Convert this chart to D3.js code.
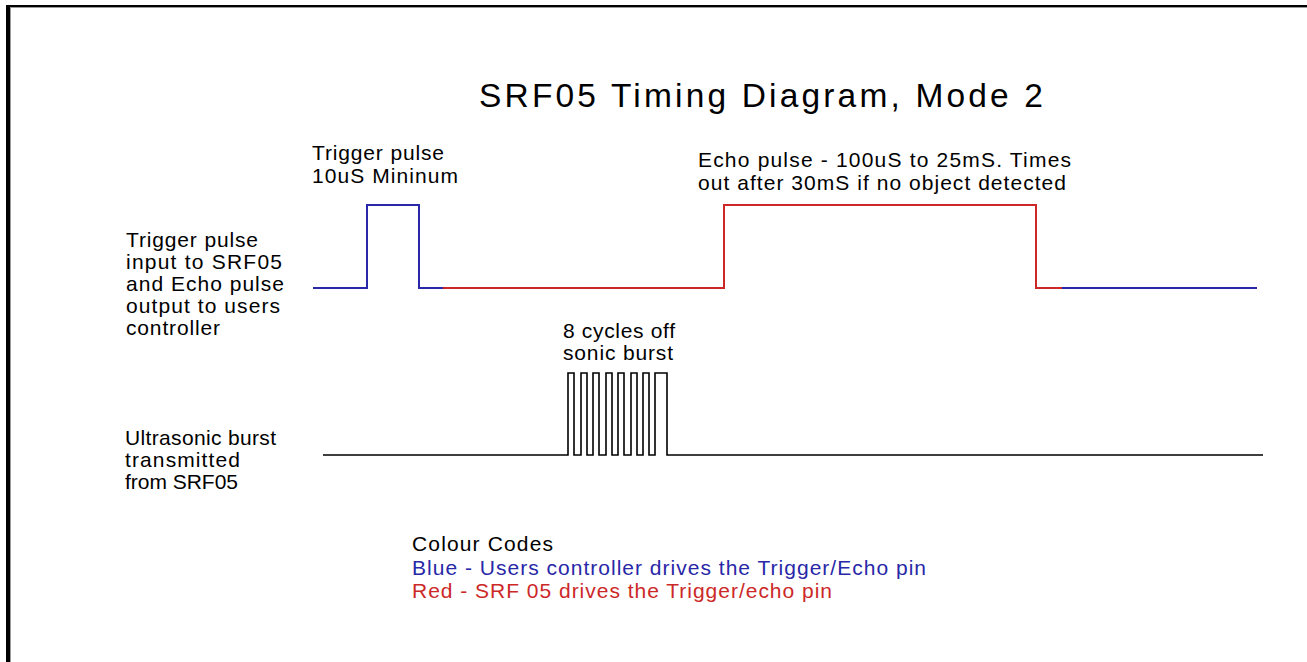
<!DOCTYPE html>
<html>
<head>
<meta charset="utf-8">
<script src="https://cdn.jsdelivr.net/npm/d3@7"></script>
<style>
  html, body { margin: 0; padding: 0; background: #fff; }
  svg { display: block; }
  text { font-family: "Liberation Sans", Arial, sans-serif; }
</style>
</head>
<body>
<svg id="chart" width="1307" height="662"></svg>
<script>
// ---- Data (time in arbitrary units, level 0 = low, 1 = high) ----
const titleText = "SRF05 Timing Diagram, Mode 2";

// Trigger/Echo line, split by who drives it
const triggerBlue1 = [[0,0],[54,0],[54,1],[106,1],[106,0],[130,0]];
const echoRed      = [[130,0],[411,0],[411,1],[723,1],[723,0],[749,0]];
const triggerBlue2 = [[749,0],[944,0]];

// Ultrasonic burst: rising and falling edges of the 8 cycles
const burstStart = 10;
const burstEnd = 950;
const burstRises = [255, 268, 280, 293, 305, 318, 330, 342];
const burstFalls = [261, 274, 286, 299, 311, 324, 336, 354];

const leftTopLabel = ["Trigger pulse", "input to SRF05", "and Echo pulse", "output to users", "controller"];
const leftBottomLabel = ["Ultrasonic burst", "transmitted", "from SRF05"];
const triggerNote = ["Trigger pulse", "10uS Mininum"];
const echoNote = ["Echo pulse - 100uS to 25mS. Times", "out after 30mS if no object detected"];
const burstNote = ["8 cycles off", "sonic burst"];
const legendTitle = "Colour Codes";
const legendBlue = "Blue - Users controller drives the Trigger/Echo pin";
const legendRed = "Red - SRF 05 drives the Trigger/echo pin";

// ---- Drawing ----
const BLUE = "#2828a8";
const RED = "#cc2828";
const svg = d3.select("#chart");

// frame (top and left edges)
svg.append("rect").attr("x", 6).attr("y", 5).attr("width", 1301).attr("height", 2).attr("fill", "#000");
svg.append("rect").attr("x", 6).attr("y", 7).attr("width", 1301).attr("height", 1).attr("fill", "#9a9a9a");
svg.append("rect").attr("x", 6).attr("y", 5).attr("width", 4).attr("height", 657).attr("fill", "#000");
svg.append("rect").attr("x", 10).attr("y", 7).attr("width", 1).attr("height", 655).attr("fill", "#9a9a9a");

const x = d3.scaleLinear().domain([0, 950]).range([313, 1263]);
const yTrig = d3.scaleLinear().domain([0, 1]).range([288, 205]);
const yBurst = d3.scaleLinear().domain([0, 1]).range([455, 373]);

const lineTrig = d3.line().x(d => x(d[0])).y(d => yTrig(d[1]));
const lineBurst = d3.line().x(d => x(d[0])).y(d => yBurst(d[1]));

[[triggerBlue1, BLUE], [echoRed, RED], [triggerBlue2, BLUE]].forEach(([pts, c]) => {
  svg.append("path").attr("d", lineTrig(pts)).attr("fill", "none")
    .attr("stroke", c).attr("stroke-width", 2).attr("stroke-linejoin", "miter");
});

// build burst waveform from edges
const burstPts = [[burstStart, 0]];
burstRises.forEach((r, i) => {
  burstPts.push([r, 0], [r, 1], [burstFalls[i], 1], [burstFalls[i], 0]);
});
burstPts.push([burstEnd, 0]);
svg.append("path").attr("d", lineBurst(burstPts)).attr("fill", "none")
  .attr("stroke", "#000").attr("stroke-width", 1.6).attr("stroke-linejoin", "miter");

// ---- Text ----
function addLines(lines, x0, baselines, widths, size, color) {
  lines.forEach((t, i) => {
    const el = svg.append("text").attr("x", x0).attr("y", baselines[i])
      .attr("font-size", size).attr("fill", color || "#000").text(t);
    if (widths && widths[i]) el.attr("textLength", widths[i]).attr("lengthAdjust", "spacing");
  });
}

addLines([titleText], 479, [107], [564], 33.5);
addLines(triggerNote, 312, [160, 183], [132, 146], 21);
addLines(echoNote, 698, [167, 190], [373, 368], 21);
addLines(leftTopLabel, 126, [247, 269, 291, 313, 335], [132, 156, 158, 154, 94], 21);
addLines(burstNote, 563, [338, 360], [112, 110], 21);
addLines(leftBottomLabel, 125, [445, 467, 489], [151, 115, 113], 21);
addLines([legendTitle], 412, [551], [141], 21);
addLines([legendBlue], 412, [575], [514], 21, BLUE);
addLines([legendRed], 412, [598], [420], 21, RED);
</script>
</body>
</html>
